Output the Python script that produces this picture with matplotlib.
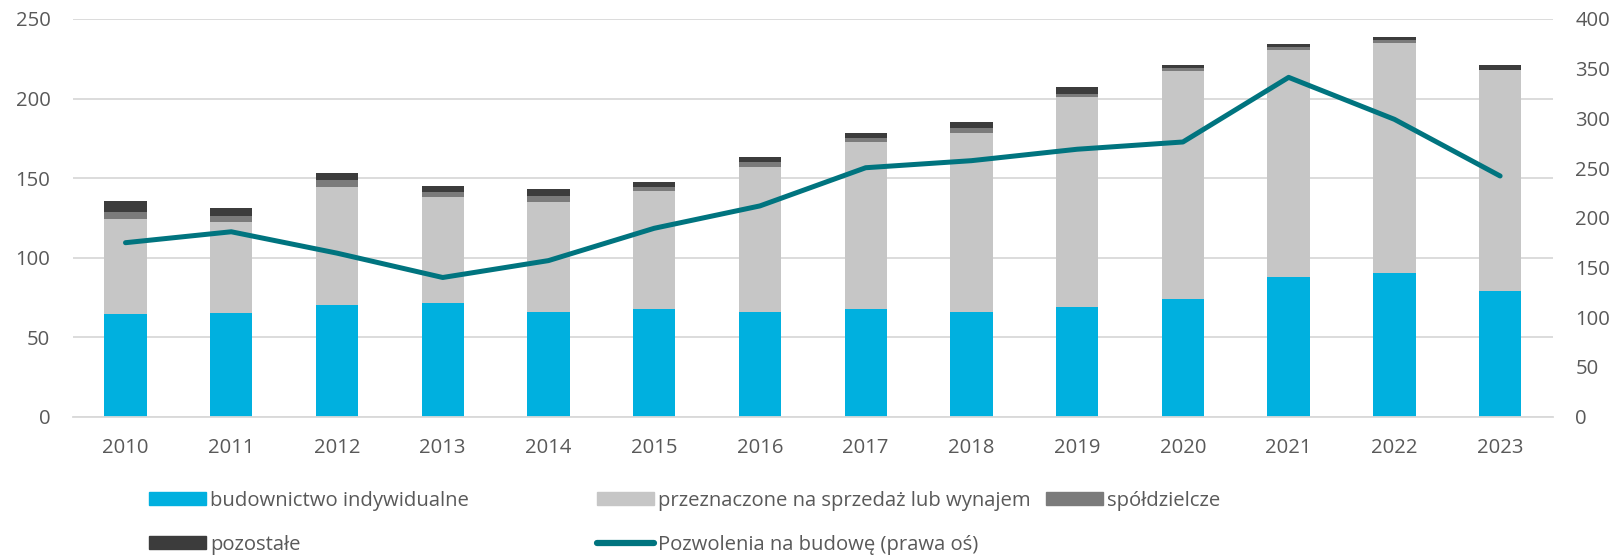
import matplotlib
matplotlib.use("Agg")
import matplotlib.pyplot as plt
from matplotlib.patches import Patch
from matplotlib.lines import Line2D
import numpy as np

plt.rcParams['font.family'] = ['Open Sans', 'DejaVu Sans']

# data (thousands of dwellings / permits)
years = [2010, 2011, 2012, 2013, 2014, 2015, 2016, 2017, 2018, 2019, 2020, 2021, 2022, 2023]
indywidualne = [64.6, 65.4, 70.2, 71.7, 66.0, 67.7, 65.6, 67.7, 65.8, 69.0, 74.0, 87.8, 90.5, 79.0]
sprzedaz = [59.5, 57.0, 74.4, 66.2, 69.2, 74.4, 91.6, 105.0, 112.7, 132.2, 143.3, 142.7, 144.6, 138.8]
spoldzielcze = [4.8, 3.8, 4.2, 3.4, 3.5, 2.5, 2.9, 2.5, 3.0, 1.7, 1.7, 1.9, 1.5, 0.4]
pozostale = [6.9, 4.8, 4.2, 3.9, 4.4, 2.9, 3.2, 3.2, 3.6, 4.6, 2.1, 2.1, 2.1, 3.1]
pozwolenia = [175, 186, 164.5, 140, 157, 189.5, 212, 250.4, 257.5, 269, 276.3, 341.3, 299.1, 242.1]

labels = ["budownictwo indywidualne", "przeznaczone na sprzedaż lub wynajem",
          "spółdzielcze", "pozostałe", "Pozwolenia na budowę (prawa oś)"]
colors = ["#00B0DF", "#C6C6C6", "#7B7B7B", "#3C3C3C"]
line_color = "#00747F"
text_color = "#595959"
grid_color = "#D9D9D9"
fs = 14.6

fig = plt.figure(figsize=(16.14, 5.57), dpi=100)
ax = fig.add_axes([0.045, 0.2519, 0.9172, 0.714])
x = np.arange(len(years))

bottom = np.zeros(len(years))
for vals, c in zip([indywidualne, sprzedaz, spoldzielcze, pozostale], colors):
    ax.bar(x, vals, width=0.4, bottom=bottom, color=c, zorder=2)
    bottom += np.array(vals)

ax.set_ylim(0, 250)
ax.set_yticks(range(0, 251, 50))
ax.set_xlim(-0.5, len(years) - 0.5)
ax.set_xticks(x)
ax.set_xticklabels([str(y) for y in years])
ax.grid(axis='y', color=grid_color, lw=1.3, zorder=0)
ax.set_axisbelow(True)
for s in ['top', 'right', 'left']:
    ax.spines[s].set_visible(False)
ax.spines['bottom'].set_color(grid_color)
ax.spines['bottom'].set_linewidth(1.3)
ax.tick_params(axis='both', length=0, labelsize=fs, colors=text_color)
ax.tick_params(axis='y', pad=16)
ax.tick_params(axis='x', pad=15.5)

ax2 = ax.twinx()
ax2.plot(x, pozwolenia, color=line_color, lw=3.6, solid_capstyle='round', zorder=3)
ax2.set_ylim(0, 400)
ax2.set_yticks(range(0, 401, 50))
for s in ax2.spines.values():
    s.set_visible(False)
ax2.tick_params(axis='y', length=0, labelsize=fs, colors=text_color, pad=16)

# legend laid out as a 3-column grid, one entry per legend box
handles = [Patch(color=colors[0]), Patch(color=colors[1]), Patch(color=colors[2]),
           Patch(color=colors[3]), Line2D([0], [0], color=line_color, lw=4.5, solid_capstyle='round')]
pos = [(149, 501), (597, 501), (1046, 501), (149, 545), (597, 545)]
W, H = 1614, 557
for h, lab, (px, py) in zip(handles, labels, pos):
    fig.legend([h], [lab], loc='center left', bbox_to_anchor=(px / W, 1 - py / H),
               frameon=False, fontsize=fs, labelcolor=text_color, borderpad=0,
               borderaxespad=0, handlelength=2.8, handleheight=0.62, handletextpad=0.2)

fig.savefig("out.png", dpi=100)
